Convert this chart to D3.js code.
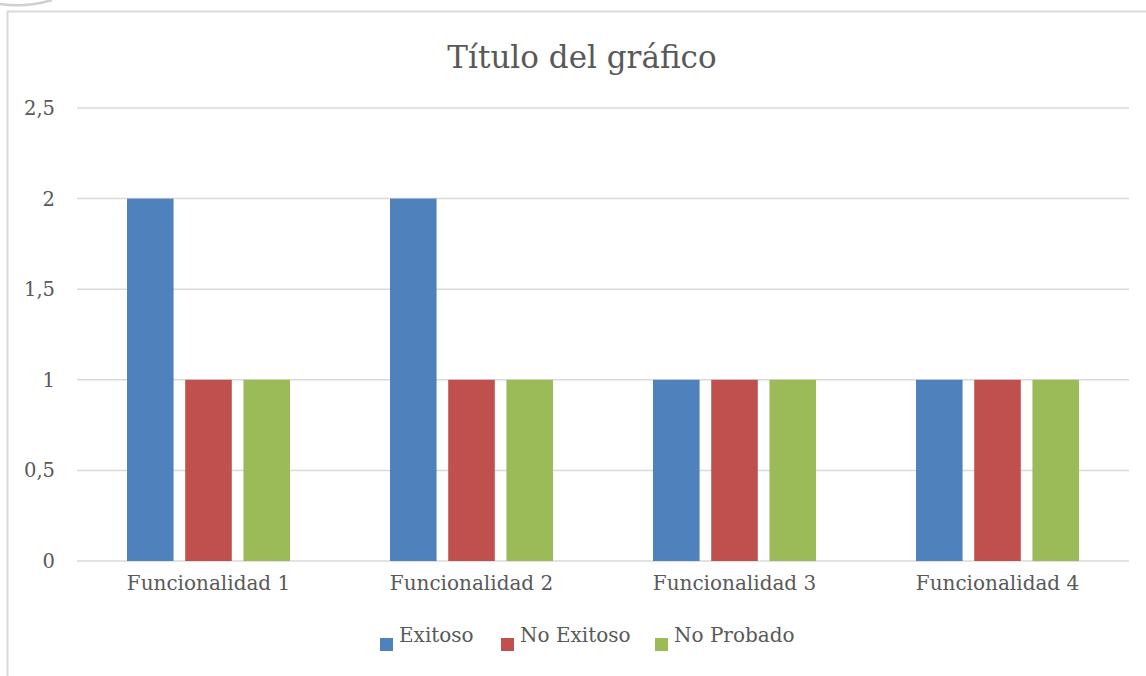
<!DOCTYPE html>
<html><head><meta charset="utf-8">
<script src="https://cdn.jsdelivr.net/npm/d3@7"></script>
<style>body{margin:0;background:#fff}svg{display:block}</style>
</head><body>
<svg id="c" width="1146" height="676"></svg>
<script>
const categories = ["Funcionalidad 1","Funcionalidad 2","Funcionalidad 3","Funcionalidad 4"];
const seriesNames = ["Exitoso","No Exitoso","No Probado"];
const exitoso = [2,2,1,1];
const noExitoso = [1,1,1,1];
const noProbado = [1,1,1,1];
const tickValues = [0,0.5,1,1.5,2,2.5];
const tickLabels = ["0","0,5","1","1,5","2","2,5"];
const colors = ["#4F81BD","#C0504D","#9BBB59"];
const title = "Título del gráfico";

const values = [exitoso, noExitoso, noProbado];
const svg = d3.select("#c");
const font = "'DejaVu Serif', serif";
const textColor = "#595959";

// faint artifact arc top-left
svg.append("path").attr("d","M0,4 Q26,8 52,0").attr("fill","none").attr("stroke","#D0D0D0").attr("stroke-width",2.5);

// frame border
svg.append("path").attr("d","M7.5,676 L7.5,11.5 L1146,11.5").attr("fill","none").attr("stroke","#D9D9D9").attr("stroke-width",2);

const x0 = d3.scaleBand().domain(categories).range([77,1129]).padding(0);
const x1 = d3.scaleBand().domain(seriesNames).range([50,213]).paddingInner(0.2).paddingOuter(0);
const y = d3.scaleLinear().domain([0,2.5]).range([561,108]);

// gridlines
svg.append("g").selectAll("line").data(tickValues).join("line")
  .attr("x1",77).attr("x2",1129).attr("y1",d=>y(d)).attr("y2",d=>y(d))
  .attr("stroke","#D9D9D9").attr("stroke-width",1.5);

// y tick labels
svg.append("g").selectAll("text").data(tickValues).join("text")
  .attr("x",55).attr("y",d=>y(d)+7).attr("text-anchor","end")
  .attr("font-family",font).attr("font-size",19.5).attr("fill",textColor)
  .text((d,i)=>tickLabels[i]);

// bars
const g = svg.append("g");
categories.forEach((c,ci)=>{
  seriesNames.forEach((s,si)=>{
    g.append("rect").attr("x",x0(c)+x1(s)).attr("width",x1.bandwidth())
      .attr("y",y(values[si][ci])).attr("height",y(0)-y(values[si][ci]))
      .attr("fill",colors[si]);
  });
});

// category labels
svg.append("g").selectAll("text").data(categories).join("text")
  .attr("x",d=>x0(d)+x0.bandwidth()/2).attr("y",590).attr("text-anchor","middle")
  .attr("font-family",font).attr("font-size",20).attr("fill",textColor).text(d=>d);

// title
svg.append("text").attr("x",582).attr("y",68).attr("text-anchor","middle")
  .attr("font-family",font).attr("font-size",31).attr("fill",textColor).text(title);

// legend
const legendX = [380,501,655];
const lg = svg.append("g");
seriesNames.forEach((s,i)=>{
  lg.append("rect").attr("x",legendX[i]).attr("y",638).attr("width",13).attr("height",13).attr("fill",colors[i]);
  lg.append("text").attr("x",legendX[i]+19).attr("y",642).attr("font-family",font).attr("font-size",20).attr("fill",textColor).text(s);
});
</script>
</body></html>
